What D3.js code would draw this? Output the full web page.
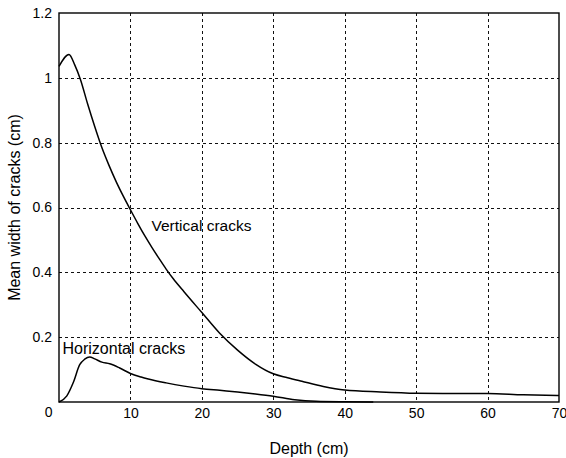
<!DOCTYPE html>
<html>
<head>
<meta charset="utf-8">
<script src="https://cdn.jsdelivr.net/npm/d3@7/dist/d3.min.js"></script>
<style>
  html, body { margin: 0; padding: 0; background: #fff; }
  svg { display: block; font-family: "Liberation Sans", Arial, sans-serif; }
</style>
</head>
<body>
<svg id="chart" width="566" height="458"></svg>
<script>
// Mean crack width versus depth (cm)
const xTicks = [0, 10, 20, 30, 40, 50, 60, 70];
const yTicks = [0, 0.2, 0.4, 0.6, 0.8, 1.0, 1.2];
const yTickLabels = ["0", "0.2", "0.4", "0.6", "0.8", "1", "1.2"];

// Vertical cracks: depth (cm) and mean width (cm)
const verticalDepth = [0, 1.4, 2.2, 3, 4, 5, 6, 7, 8, 9, 10, 11, 12, 13, 14, 15, 16, 17.5, 20, 22.5, 25, 27.5, 30, 32, 34, 37, 40, 45, 50, 55, 60, 65, 70];
const verticalWidth = [1.035, 1.072, 1.04, 0.995, 0.92, 0.85, 0.785, 0.73, 0.68, 0.635, 0.593, 0.552, 0.513, 0.477, 0.443, 0.41, 0.38, 0.34, 0.276, 0.212, 0.16, 0.117, 0.087, 0.075, 0.064, 0.048, 0.037, 0.031, 0.027, 0.026, 0.026, 0.022, 0.020];

// Horizontal cracks: depth (cm) and mean width (cm)
const horizontalDepth = [0, 1.1, 2.0, 2.9, 3.6, 4.3, 5.0, 6.0, 7.1, 8.5, 10, 11.5, 12.5, 15, 17.5, 20, 22.5, 25, 27.5, 30, 33, 36, 40, 44];
const horizontalWidth = [0, 0.019, 0.06, 0.115, 0.132, 0.139, 0.133, 0.123, 0.118, 0.105, 0.088, 0.077, 0.071, 0.059, 0.049, 0.041, 0.036, 0.031, 0.025, 0.018, 0.007, 0.002, 0.0005, 0];

const svg = d3.select("#chart");
const plotLeft = 59, plotRight = 559, plotTop = 13, plotBottom = 402;

const x = d3.scaleLinear().domain([0, 70]).range([plotLeft, plotRight]);
const y = d3.scaleLinear().domain([0, 1.2]).range([plotBottom, plotTop]);

// dashed grid
const grid = svg.append("g").attr("stroke", "#111").attr("stroke-width", 1)
  .attr("stroke-dasharray", "3,3");
grid.selectAll("line.gx").data(xTicks.slice(1, -1)).join("line")
  .attr("x1", d => Math.round(x(d)) + 0.5).attr("x2", d => Math.round(x(d)) + 0.5)
  .attr("y1", plotTop).attr("y2", plotBottom);
grid.selectAll("line.gy").data(yTicks.slice(1, -1)).join("line")
  .attr("y1", d => Math.round(y(d)) + 0.5).attr("y2", d => Math.round(y(d)) + 0.5)
  .attr("x1", plotLeft).attr("x2", plotRight);

// axes
const xAxis = svg.append("g").attr("transform", `translate(0,${plotBottom})`)
  .call(d3.axisBottom(x).tickValues(xTicks.slice(1)).tickSize(0).tickPadding(6).tickFormat(d3.format("d")));
const yAxis = svg.append("g").attr("transform", `translate(${plotLeft},0)`)
  .call(d3.axisLeft(y).tickValues(yTicks).tickSize(0).tickPadding(7).tickFormat((d, i) => yTickLabels[i]));
[xAxis, yAxis].forEach(g => {
  g.select(".domain").remove();
  g.selectAll("text").attr("font-size", 14).attr("fill", "#000")
    .attr("font-family", "'Liberation Sans', Arial, sans-serif");
});
// corner zero sits below the axis line
yAxis.selectAll(".tick").filter(d => d === 0).select("text").attr("dy", "1.05em").attr("x", -6.5);

// curves
const line = d3.line().x(d => x(d[0])).y(d => y(d[1])).curve(d3.curveMonotoneX);
const verticalPts = verticalDepth.map((d, i) => [d, verticalWidth[i]]);
const horizontalPts = horizontalDepth.map((d, i) => [d, horizontalWidth[i]]);

svg.append("path").attr("d", line(horizontalPts)).attr("fill", "none")
  .attr("stroke", "#000").attr("stroke-width", 1.5);
svg.append("path").attr("d", line(verticalPts)).attr("fill", "none")
  .attr("stroke", "#000").attr("stroke-width", 1.5);

// frame
svg.append("rect").attr("x", plotLeft).attr("y", plotTop)
  .attr("width", plotRight - plotLeft).attr("height", plotBottom - plotTop)
  .attr("fill", "none").attr("stroke", "#000").attr("stroke-width", 1.4);

// annotations
svg.append("text").attr("x", 151.5).attr("y", 231).attr("font-size", 15.5)
  .text("Vertical cracks");
svg.append("text").attr("x", 62.5).attr("y", 353.5).attr("font-size", 16)
  .text("Horizontal cracks");

// axis titles
svg.append("text").attr("x", (plotLeft + plotRight) / 2).attr("y", 454)
  .attr("text-anchor", "middle").attr("font-size", 16).text("Depth (cm)");
svg.append("text").attr("transform", `translate(20,${(plotTop + plotBottom) / 2}) rotate(-90)`)
  .attr("text-anchor", "middle").attr("font-size", 16).text("Mean width of cracks (cm)");
</script>
</body>
</html>
